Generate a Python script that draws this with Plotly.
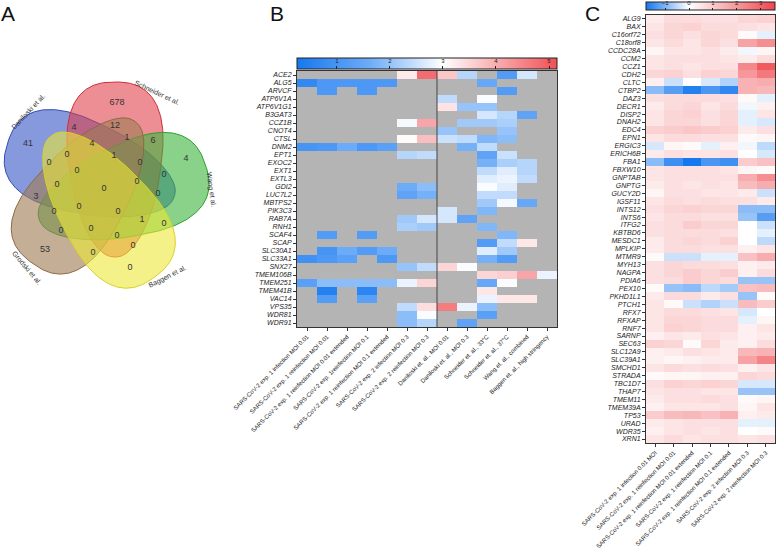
import numpy as np
import plotly.graph_objects as go

N = None
FONT = "Liberation Sans, Arial, sans-serif"

# ---------------- Panel A: Venn data ----------------
venn_sets = ["Daniloski et al.", "Schneider et al.", "Wang et al.", "Baggen et al.", "Grodski et al."]
venn_counts = [678, 41, 4, 53, 0, 4, 12, 1, 6, 4, 0, 1, 0, 0, 0, 0, 0, 0, 0, 0, 3, 0, 0, 0, 1, 0, 0, 0, 0, 0, 0]
venn_count_xy = [(117, 103), (28, 144), (186, 159), (45, 250), (130, 268), (74, 128), (115, 126), (127, 138),
                 (153, 141), (92, 144), (67, 155), (114, 156), (49, 163), (77, 171), (140, 163), (164, 175),
                 (57, 185), (104, 189), (137, 182), (158, 194), (36, 197), (79, 207), (54, 212), (118, 212),
                 (142, 220), (164, 224), (61, 231), (91, 229), (117, 236), (133, 246), (93, 253)]

# ---------------- Panel B data ----------------
b_genes = ["ACE2", "ALG5", "ARVCF", "ATP6V1A", "ATP6V1G1", "B3GAT3", "CCZ1B", "CNOT4", "CTSL", "DNM2",
           "EPT1", "EXOC2", "EXT1", "EXTL3", "GDI2", "LUC7L2", "MBTPS2", "PIK3C3", "RAB7A", "RNH1",
           "SCAF4", "SCAP", "SLC30A1", "SLC33A1", "SNX27", "TMEM106B", "TMEM251", "TMEM41B", "VAC14",
           "VPS35", "WDR81", "WDR91"]
b_screens = ["SARS-CoV-2 exp. 1 infection MOI 0.01", "SARS-CoV-2 exp. 1 reinfection MOI 0.01",
             "SARS-CoV-2 exp. 1 reinfection MOI 0.01 extended", "SARS-CoV-2 exp. 1reinfection MOI 0.1",
             "SARS-CoV-2 exp. 1 reinfection MOI 0.1 extended", "SARS-CoV-2 exp. 2 infection MOI 0.3",
             "SARS-CoV-2 exp. 2 reinfection MOI 0.3", "Daniloski et. al., MOI 0.01",
             "Daniloski et. al., MOI 0.3", "Schneider et. al., 33°C", "Schneider et. al., 37°C",
             "Wang et. al., combined", "Baggen et. al., high stringency"]
b_values = [
    [N, N, N, N, N, 3.25, 4.8, 3.7, 2.3, N, 1.2, 2.6, N],
    [0.7, 1.1, 1.1, 1.1, 1.1, N, N, N, N, 1.5, N, N, N],
    [N, 1.1, N, 1.1, N, N, N, N, N, N, 1.2, N, N],
    [N, N, N, N, N, N, N, 2.4, N, 2.95, N, N, N],
    [N, N, N, N, N, N, N, 3.35, 2.0, 2.0, N, N, N],
    [N, N, N, N, N, N, N, N, N, 2.6, 2.3, 1.4, N],
    [N, N, N, N, N, 2.9, 4.1, N, 2.1, 2.1, 2.2, N, N],
    [N, N, N, N, N, N, N, 2.0, N, N, 2.0, N, N],
    [N, N, N, N, N, 3.05, 3.8, 2.5, 2.4, 1.8, 1.9, N, N],
    [1.0, 1.1, 1.6, 1.1, 1.3, N, N, N, 1.7, 2.4, N, N, N],
    [N, N, N, N, N, 2.3, 2.4, N, N, 1.4, 2.5, N, N],
    [N, N, N, N, N, N, N, N, N, 1.7, 2.2, 2.3, N],
    [N, N, N, N, N, N, N, N, N, 2.4, 2.7, 2.3, N],
    [N, N, N, N, N, N, N, N, N, 2.7, 2.8, 2.4, N],
    [N, N, N, N, N, 1.6, 1.9, N, N, 2.95, 2.7, N, N],
    [N, N, N, N, N, 1.4, 1.7, N, N, 2.4, 2.4, N, N],
    [N, N, N, N, N, N, N, N, N, 2.1, 2.9, 1.5, N],
    [N, N, N, N, N, N, N, 2.6, N, 1.8, N, N, N],
    [N, N, N, N, N, 2.1, 2.6, 2.6, 1.4, N, N, N, N],
    [N, N, N, N, N, 2.2, 2.1, N, N, 1.8, N, N, N],
    [N, 1.2, N, 1.2, N, N, N, N, N, N, 1.8, N, N],
    [N, N, N, N, N, N, N, N, N, 1.2, 2.4, 3.3, N],
    [N, 1.0, 1.6, 1.2, 1.6, N, N, N, N, 2.7, 2.1, N, N],
    [0.9, 1.1, 1.3, N, 1.1, N, N, N, N, 1.7, 1.2, N, N],
    [N, N, N, N, N, 2.0, 2.4, 3.5, 2.95, N, N, N, N],
    [N, N, N, N, N, N, N, N, N, 3.5, 3.6, 4.1, 2.8],
    [1.3, 1.9, 1.9, 1.9, 1.9, 2.8, 3.5, N, N, 1.5, 2.95, N, N],
    [N, 0.5, N, 0.6, N, N, N, N, N, 3.3, N, N, N],
    [N, 1.2, N, 1.3, N, N, N, N, N, 2.8, 3.3, 3.3, N],
    [N, N, N, N, N, 2.4, 3.4, 4.6, 2.8, 1.9, N, N, N],
    [N, N, N, N, N, 1.9, 2.95, N, N, 1.3, N, N, N],
    [N, N, N, N, N, 1.9, 2.3, N, 1.4, N, N, N, N],
]
b_ticks = [1, 2, 3, 4, 5]

# ---------------- Panel C data ----------------
c_genes = ["ALG9", "BAX", "C16orf72", "C18orf8", "CCDC28A", "CCM2", "CCZ1", "CDH2", "CLTC", "CTBP2",
           "DAZ3", "DECR1", "DISP2", "DNAH2", "EDC4", "EPN1", "ERGIC3", "ERICH6B", "FBA1", "FBXW10",
           "GNPTAB", "GNPTG", "GUCY2D", "IGSF11", "INTS12", "INTS6", "ITFG2", "KBTBD6", "MESDC1",
           "MPLKIP", "MTMR9", "MYH13", "NAGPA", "PDIA6", "PEX10", "PKHD1L1", "PTCH1", "RFX7", "RFXAP",
           "RNF7", "SARNP", "SEC63", "SLC12A9", "SLC39A1", "SMCHD1", "STRADA", "TBC1D7", "THAP7",
           "TMEM11", "TMEM39A", "TP53", "URAD", "WDR35", "XRN1"]
c_screens = ["SARS-CoV-2 exp. 1 infection 0.01 MOI", "SARS-CoV-2 exp. 1 reinfection MOI 0.01",
             "SARS-CoV-2 exp. 1 reinfection MOI 0.01 extended", "SARS-CoV-2 exp. 1 reinfection MOI 0.1",
             "SARS-CoV-2 exp. 1 reinfection MOI 0.1 extended", "SARS-CoV-2 exp. 2 infection MOI 0.3",
             "SARS-CoV-2 exp. 2 reinfection MOI 0.3"]
c_values = [
    [0.4, 0.7, 0.7, 0.6, 0.6, 0.8, 0.9],
    [0.5, 0.8, 0.9, 0.7, 0.7, 0.6, 0.5],
    [0.6, 0.8, 0.6, 0.8, 0.7, 0.1, -0.2],
    [0.5, 0.7, 0.5, 0.8, 0.6, 1.8, 2.2],
    [0.2, 0.5, 0.5, 0.6, 0.4, -0.1, 0.2],
    [0.5, 0.6, 0.6, 0.6, 0.5, 0.4, 0.7],
    [0.5, 0.6, 0.5, 0.6, 0.6, 2.3, 3.2],
    [0.8, 0.9, 0.6, 0.9, 0.8, 2.0, 2.6],
    [0.3, -0.4, 0.0, -0.3, -0.6, 1.5, 1.6],
    [-0.9, -1.3, -1.7, -1.4, -1.6, 1.5, 1.4],
    [0.6, 0.7, 0.7, 0.7, 0.6, 0.1, -0.2],
    [0.4, 0.7, 0.8, 0.5, 0.7, -0.1, 0.3],
    [0.5, 0.8, 0.9, 0.6, 0.8, -0.2, 0.5],
    [0.5, 0.8, 0.8, 0.6, 0.8, -0.2, -0.3],
    [0.9, 1.0, 1.1, 1.0, 0.9, 0.4, 0.6],
    [0.5, 0.7, 0.7, 0.6, 0.6, 0.1, 0.2],
    [-0.3, 0.2, 0.1, -0.2, 0.3, -0.1, -0.5],
    [0.4, 0.6, 0.5, 0.5, 0.6, 0.0, -0.3],
    [-0.9, -1.5, -1.8, -1.4, -1.5, 1.0, 1.2],
    [0.5, 0.6, 0.6, 0.6, 0.5, 0.2, 0.1],
    [0.5, 0.6, 0.6, 0.6, 0.6, 1.6, 2.2],
    [0.4, 0.6, 0.5, 0.6, 0.5, 1.3, 1.6],
    [0.2, 0.6, 0.6, 0.5, 0.5, 0.4, -0.4],
    [0.5, 0.7, 0.6, 0.7, 0.6, 0.6, 0.4],
    [0.6, 0.8, 0.9, 0.8, 0.8, -0.9, -0.9],
    [0.5, 0.7, 0.7, 0.6, 0.6, -0.8, -1.3],
    [0.6, 0.7, 1.0, 0.8, 0.8, 0.0, -0.4],
    [0.6, 0.7, 0.7, 0.7, 0.6, 0.0, -0.2],
    [0.4, 0.7, 0.8, 0.7, 0.9, 0.0, -0.5],
    [0.4, 0.7, 0.7, 0.6, 0.6, 0.3, 0.5],
    [0.1, -0.4, -0.4, -0.2, -0.2, 1.2, 1.6],
    [0.6, 0.8, 0.7, 0.7, 0.6, 0.3, 0.4],
    [0.6, 0.8, 1.0, 0.8, 1.0, 0.3, 0.7],
    [0.6, 0.7, 1.0, 0.8, 0.7, -0.8, -0.8],
    [0.1, -0.8, -0.9, -0.5, -0.7, 1.2, 1.3],
    [0.4, 0.7, 0.7, 0.4, 0.6, -0.8, 0.1],
    [0.5, 0.1, -0.4, -0.6, -0.4, 1.3, 1.0],
    [0.5, 0.7, 0.7, 0.6, 0.5, -0.3, 0.0],
    [0.5, 0.8, 0.8, 0.7, 0.7, -0.2, 0.2],
    [0.5, 0.9, 0.8, 0.7, 0.7, 0.3, 0.5],
    [0.3, 0.5, 0.4, 0.6, 0.5, 0.3, 0.4],
    [0.9, 0.8, 0.1, 0.8, 0.4, 0.3, 0.7],
    [0.3, 0.4, 0.6, 0.5, 0.4, 1.4, 1.5],
    [0.3, 0.2, 0.3, 0.4, 0.4, 1.8, 2.4],
    [0.5, 0.7, 0.6, 0.7, 0.6, 0.3, 0.5],
    [0.1, 0.2, 0.2, 0.3, 0.3, 0.8, 0.7],
    [0.6, 0.9, 0.8, 0.9, 0.8, -0.3, -0.3],
    [0.5, 0.6, 0.6, 0.5, 0.5, -0.8, -0.8],
    [0.4, 0.6, 0.6, 0.7, 0.6, 0.1, 0.2],
    [0.3, 0.5, 0.5, 0.5, 0.6, 0.2, 0.5],
    [1.0, 1.3, 1.4, 1.2, 1.5, 0.3, 0.4],
    [0.4, 0.5, 0.6, 0.6, 0.6, -0.2, -0.2],
    [0.3, 0.5, 0.6, 0.5, 0.6, 0.0, 0.1],
    [0.5, 0.7, 0.5, 0.6, 0.6, 0.5, 0.6],
]
c_ticks = [-1, 0, 1, 2, 3]

# ---------------- layout helpers ----------------
W, H = 776, 554
def fx(px):
    return px / W
def fy(py):
    return 1 - py / H

fig = go.Figure()

# ---------------- Panel A: Venn ----------------
venn_fill = ["rgba(60,90,200,0.62)", "rgba(222,60,70,0.58)", "rgba(60,180,60,0.6)",
             "rgba(235,232,55,0.6)", "rgba(160,125,85,0.62)"]
venn_line = ["rgb(50,75,185)", "rgb(210,45,55)", "rgb(45,160,45)", "rgb(215,210,40)", "rgb(140,105,70)"]
venn_angle = [198, -90, -18, 54, 126]
draw_order = [0, 1, 2, 4, 3]

def blob(angle_deg, cx=103.0, cy=186.0, off=12.0):
    th = np.linspace(0, 2 * np.pi, 240)
    n = 2.5
    s, c = np.sin(th), np.cos(th)
    u = np.sign(s) * np.abs(s) ** (2 / n)
    v = np.sign(c) * np.abs(c) ** (2 / n)
    t = 16.5 + 87.5 * u
    taper = 0.45 + 0.55 * ((u + 1) / 2) ** 0.6
    w = 56 * v * taper
    a = np.radians(angle_deg)
    d = np.array([np.cos(a), np.sin(a)])
    p = np.array([-np.sin(a), np.cos(a)])
    x = cx + off * p[0] + t * d[0] + w * p[0]
    y = cy + off * p[1] + t * d[1] + w * p[1]
    return x, y

for i in draw_order:
    bx, by = blob(venn_angle[i])
    fig.add_trace(go.Scatter(x=bx, y=by, mode="lines", fill="toself", fillcolor=venn_fill[i],
                             line=dict(color=venn_line[i], width=1), hoverinfo="skip",
                             showlegend=False, xaxis="x4", yaxis="y4"))

fig.add_trace(go.Scatter(x=[p[0] for p in venn_count_xy], y=[p[1] for p in venn_count_xy],
                         text=[str(v) for v in venn_counts], mode="text",
                         textfont=dict(family=FONT, size=9, color="#333"), showlegend=False,
                         hoverinfo="skip", xaxis="x4", yaxis="y4"))

venn_label_xy = [(28, 111, -47), (157, 92, 25), (211, 189, 82), (167, 277, -27), (27, 267, 50)]
annotations = []
for name, (lx, ly, ang) in zip(venn_sets, venn_label_xy):
    annotations.append(dict(x=lx, y=ly, xref="x4", yref="y4", text=name, showarrow=False,
                            xanchor="center", yanchor="middle",
                            textangle=ang, font=dict(family=FONT, size=7, color="#333")))

# ---------------- Panel B heatmap ----------------
b_z = np.array([[np.nan if v is None else v for v in row] for row in b_values], dtype=float)
b_zmin, b_zmax = 0.25, 5.15
b_mid = (3.0 - b_zmin) / (b_zmax - b_zmin)
fig.add_trace(go.Heatmap(
    z=b_z, x=list(range(len(b_screens))), y=list(range(len(b_genes))),
    zmin=b_zmin, zmax=b_zmax,
    colorscale=[[0, "rgb(22,120,238)"], [b_mid * 0.5, "rgb(110,172,248)"], [b_mid, "rgb(255,255,255)"],
                [1, "rgb(240,80,85)"]],
    xaxis="x2", yaxis="y2", hoverongaps=False,
    colorbar=dict(orientation="h", x=fx(427), xanchor="center", y=fy(57.5), yanchor="top",
                  len=260, lenmode="pixels", thickness=11, thicknessmode="pixels",
                  outlinewidth=1, outlinecolor="#222", tickvals=b_ticks, ticks="inside", ticklen=3,
                  tickcolor="#222", ticklabelposition="inside", xpad=0, ypad=0,
                  tickfont=dict(family=FONT, size=6, color="#222")),
))

# ---------------- Panel C heatmap ----------------
c_zmin, c_zmax = -1.8, 3.6
c_mid = (0 - c_zmin) / (c_zmax - c_zmin)
fig.add_trace(go.Heatmap(
    z=c_values, x=list(range(len(c_screens))), y=list(range(len(c_genes))),
    zmin=c_zmin, zmax=c_zmax,
    colorscale=[[0, "rgb(22,120,238)"], [c_mid, "rgb(255,255,255)"], [1, "rgb(238,70,75)"]],
    xaxis="x3", yaxis="y3",
    colorbar=dict(orientation="h", x=fx(710.5), xanchor="center", y=fy(2), yanchor="top",
                  len=129, lenmode="pixels", thickness=8, thicknessmode="pixels",
                  outlinewidth=1, outlinecolor="#222", tickvals=c_ticks, ticks="inside", ticklen=2,
                  tickcolor="#222", ticklabelposition="inside", xpad=0, ypad=0,
                  tickfont=dict(family=FONT, size=6, color="#222")),
))

tickfont_y = dict(family=FONT, size=7, color="#1a1a1a")
tickfont_x = dict(family=FONT, size=6, color="#1a1a1a")
ax_common = dict(showline=True, mirror=True, linecolor="#333", linewidth=1, ticks="outside",
                 ticklen=3, tickcolor="#333", showgrid=False, zeroline=False, automargin=False)

# separator line and grey background for missing cells in B
shapes = [
    dict(type="rect", xref="x2 domain", yref="y2 domain", x0=0, x1=1, y0=0, y1=1,
         fillcolor="rgb(180,180,180)", line=dict(width=0), layer="below"),
    dict(type="line", xref="x2", yref="y2 domain", x0=6.5, x1=6.5, y0=0, y1=1,
         line=dict(color="#444", width=1)),
]

for letter, lx in [("A", 8), ("B", 277), ("C", 592)]:
    annotations.append(dict(x=fx(lx), y=fy(13), xref="paper", yref="paper", text=letter,
                            xanchor="center", yanchor="middle",
                            showarrow=False, font=dict(family=FONT, size=21, color="#111")))

fig.update_layout(
    template="none",
    width=W, height=H, margin=dict(l=0, r=0, t=0, b=0, autoexpand=False),
    paper_bgcolor="white", plot_bgcolor="white", showlegend=False,
    font=dict(family=FONT),
    xaxis4=dict(domain=[0, fx(215)], range=[0, 215], visible=False, anchor="y4", automargin=False),
    yaxis4=dict(domain=[fy(300), fy(70)], range=[300, 70], visible=False, anchor="x4", automargin=False),
    xaxis2=dict(domain=[fx(297), fx(557)], range=[-0.5, len(b_screens) - 0.5], anchor="y2",
                tickvals=list(range(len(b_screens))), ticktext=b_screens, tickangle=-45,
                tickfont=tickfont_x, **ax_common),
    yaxis2=dict(domain=[fy(327), fy(71)], range=[len(b_genes) - 0.5, -0.5], anchor="x2",
                tickvals=list(range(len(b_genes))), ticktext=["<i>%s</i>" % g for g in b_genes],
                tickfont=tickfont_y, **ax_common),
    xaxis3=dict(domain=[fx(646), fx(775)], range=[-0.5, len(c_screens) - 0.5], anchor="y3",
                tickvals=list(range(len(c_screens))), ticktext=c_screens, tickangle=-45,
                tickfont=tickfont_x, **ax_common),
    yaxis3=dict(domain=[fy(443), fy(15)], range=[len(c_genes) - 0.5, -0.5], anchor="x3",
                tickvals=list(range(len(c_genes))), ticktext=["<i>%s</i>" % g for g in c_genes],
                tickfont=tickfont_y, **ax_common),
    shapes=shapes, annotations=annotations,
)

fig.write_html("out.html", config={"displayModeBar": False},
               post_script="document.body.style.margin='0';document.body.style.overflow='hidden';")
